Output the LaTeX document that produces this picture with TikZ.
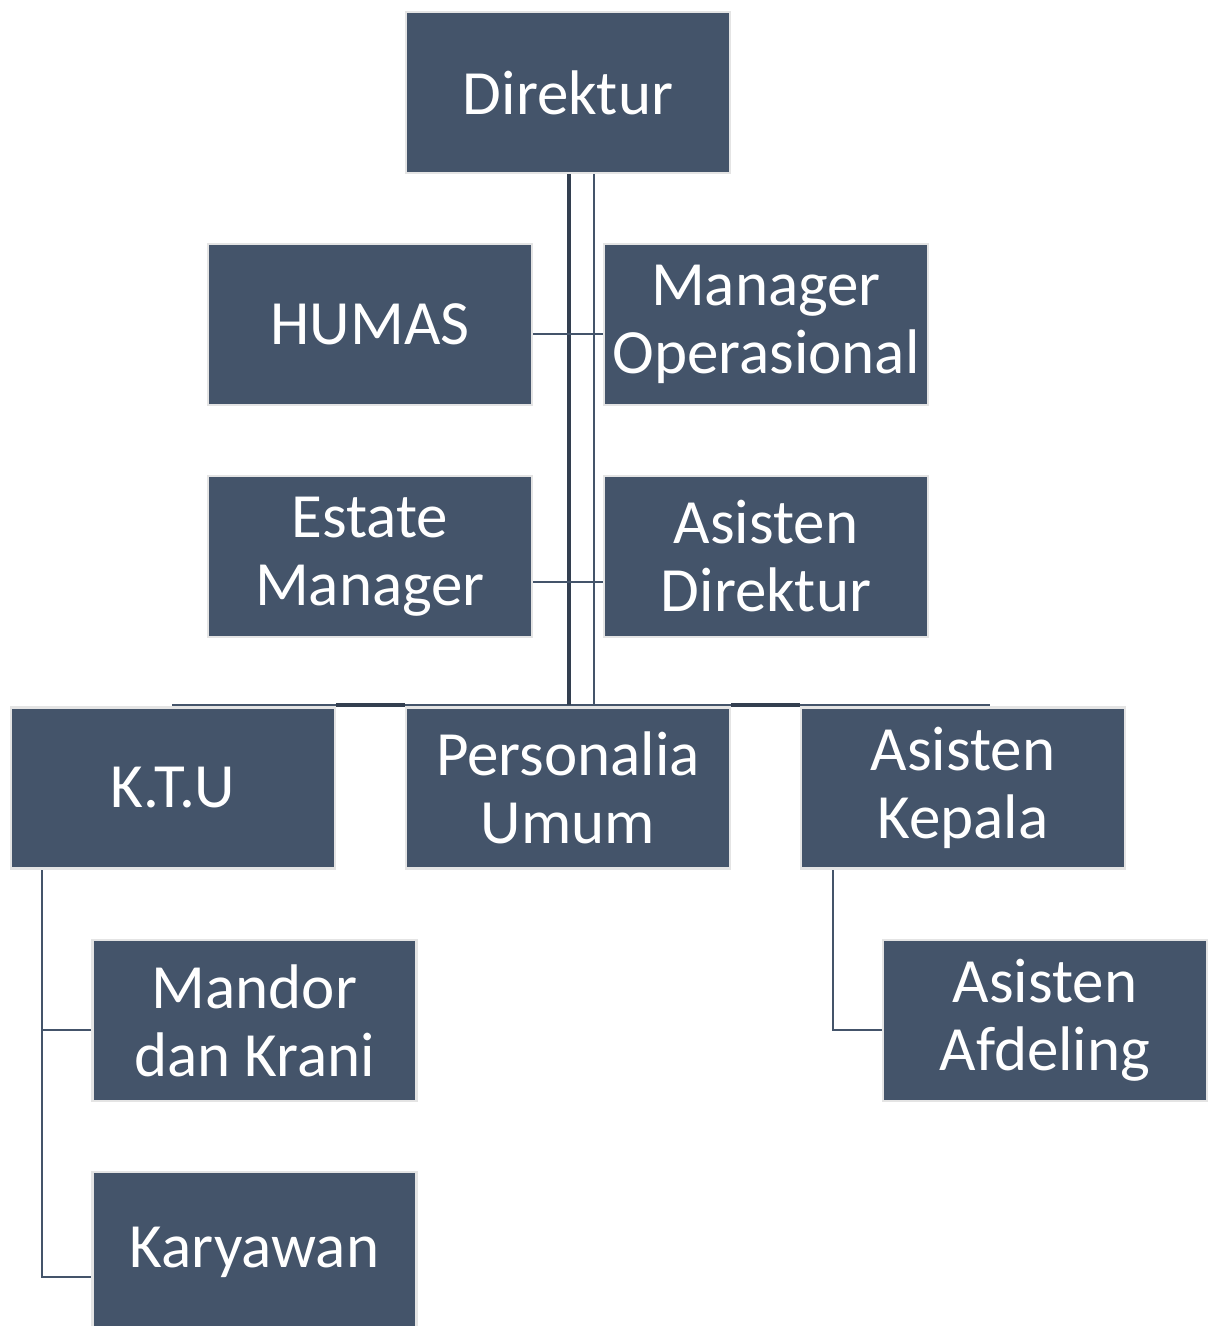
\documentclass[tikz,border=0pt]{standalone}
\usepackage{fontspec}
\setmainfont{Carlito}
\definecolor{boxfill}{HTML}{44546A}
\definecolor{boxedge}{HTML}{E4E4E4}
\definecolor{linedark}{HTML}{333F50}
\pgfdeclarelayer{background}
\pgfsetlayers{background,main}
\tikzset{
  orgbox/.style={draw=boxedge, line width=2.5pt, fill=boxfill, text=white,
    minimum width=324pt, minimum height=161pt, inner sep=0pt, align=center,
    font=\fontsize{63}{68}\selectfont},
  thickconn/.style={draw=linedark, line width=4pt},
  thinconn/.style={draw=boxfill, line width=2.6pt},
}
\begin{document}
\begin{tikzpicture}[x=1pt,y=-1pt]
\useasboundingbox (0,0) rectangle (1213,1326);
% connector coordinates
\coordinate (busL) at (172,705);
\coordinate (busR) at (990,705);
\coordinate (vA) at (569,705);
\coordinate (vB) at (594,705);
\coordinate (ktuv) at (42,871);
\coordinate (akv) at (833,871);
% boxes
\node[orgbox] (dir) at (568,92.5) {Direktur};
\node[orgbox] (humas) at (370,324.5) {HUMAS};
\node[orgbox] (mop) at (766,324.5) {Manager\\Operasional};
\node[orgbox] (em) at (370,556.5) {Estate\\Manager};
\node[orgbox] (ad) at (766,556.5) {Asisten\\Direktur};
\node[orgbox] (ktu) at (173,788) {K.T.U};
\node[orgbox] (pu) at (568,788) {Personalia\\Umum};
\node[orgbox] (ak) at (963,788) {Asisten\\Kepala};
\node[orgbox] (mk) at (254.5,1020.5) {Mandor\\dan Krani};
\node[orgbox] (af) at (1045,1020.5) {Asisten\\Afdeling};
\node[orgbox] (kar) at (254.5,1252.5) {Karyawan};
% white page and connectors, beneath the boxes
\begin{pgfonlayer}{background}
\fill[white] (0,0) rectangle (1213,1326);
\draw[thinconn] (busL) -- (busR);
\draw[thickconn] (ktu.north east |- busL) -- (pu.north west |- busL);
\draw[thickconn] (pu.north east |- busL) -- (ak.north west |- busL);
\draw[thickconn] (dir.south -| vA) -- (vA);
\draw[thinconn] (dir.south -| vB) -- (vB);
\draw[thinconn] (humas.east |- 0,334) -- (mop.west |- 0,334);
\draw[thinconn] (em.east |- 0,582) -- (ad.west |- 0,582);
\draw[thinconn] (ktu.south -| ktuv) -- (ktuv |- 0,1277) -- (kar.west |- 0,1277);
\draw[thinconn] (ktuv |- 0,1030) -- (mk.west |- 0,1030);
\draw[thinconn] (ak.south -| akv) -- (akv |- 0,1030) -- (af.west |- 0,1030);
\end{pgfonlayer}
\end{tikzpicture}
\end{document}
